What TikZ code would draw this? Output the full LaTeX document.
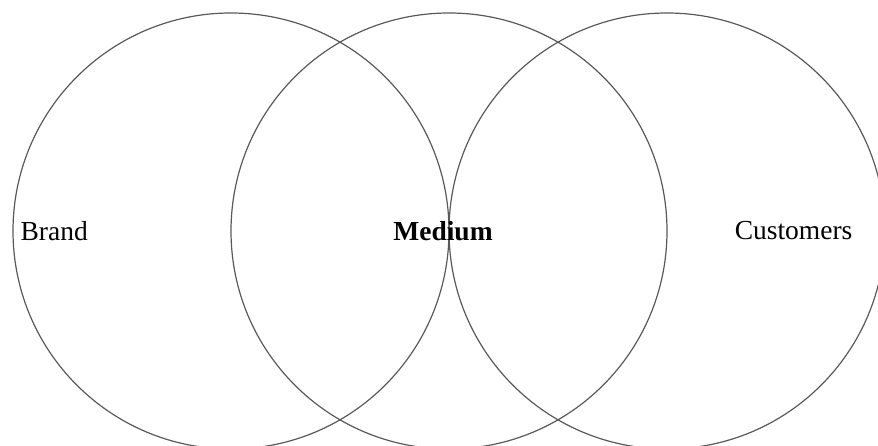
\documentclass[tikz,border=0pt]{standalone}
\usepackage{fontspec}
\setmainfont{Liberation Serif}
\usetikzlibrary{positioning}

\begin{document}
\begin{tikzpicture}[
  x=1pt, y=1pt,
  set node/.style={draw=black!65, line width=1.2pt, circle,
    minimum size=436pt, inner sep=0pt},
  label text/.style={font=\fontsize{27.5}{30}\selectfont, inner sep=0pt},
]
  \useasboundingbox (0,0) rectangle (878,446);

  % Three overlapping circles, node names: set1, set2, set3
  \foreach \cx [count=\i] in {231,449,667} {
    \node[set node] (set\i) at (\cx,215) {};
  }

  % Labels inside the circles
  \node[label text, anchor=west] (brand) at ([xshift=8pt]set1.west) {Brand};
  \node[label text] (medium) at ([xshift=-6pt]set2.center) {\textbf{Medium}};
  \node[label text, anchor=east] (customers) at ([xshift=-33pt]set3.east) {Customers};

\end{tikzpicture}
\end{document}
